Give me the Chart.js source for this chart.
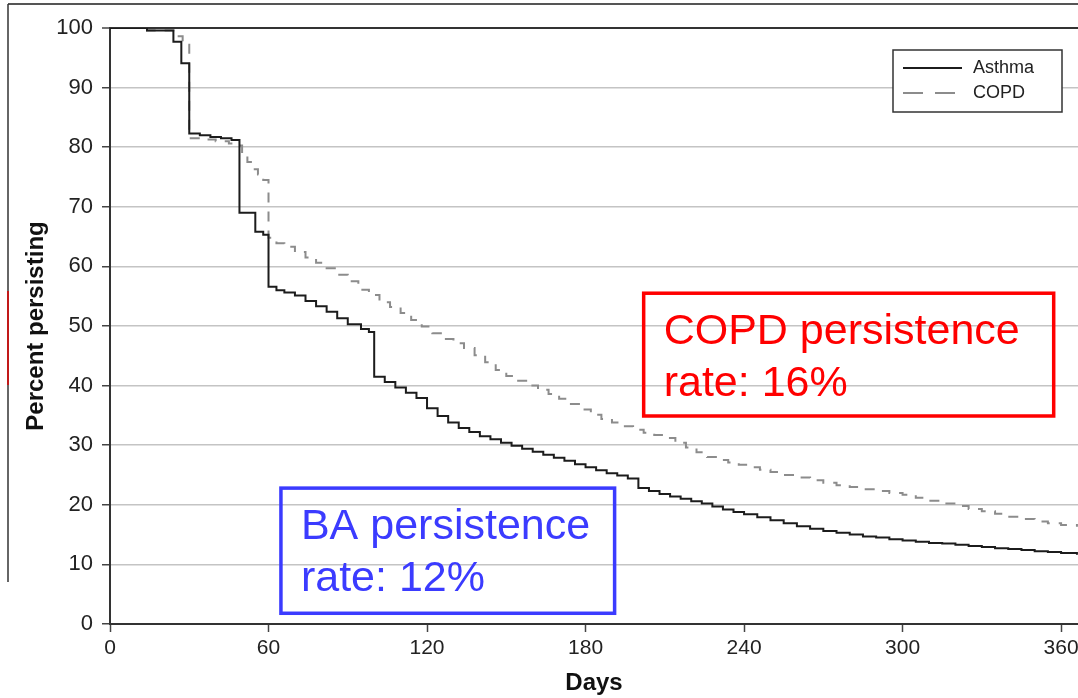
<!DOCTYPE html>
<html>
<head>
<meta charset="utf-8">
<script src="https://cdn.jsdelivr.net/npm/chart.js@4"></script>
<style>
  html, body { margin: 0; padding: 0; background: #ffffff; }
  #wrap { width: 1078px; height: 698px; position: relative; }
</style>
</head>
<body>
<div id="wrap"><canvas id="c" width="1078" height="698"></canvas></div>
<script>
// ---- data ----
const seriesNames = ['Asthma', 'COPD'];
const asthmaDays = [0,14,24,27,30,34,38,42,46,49,55,58,60,63,66,70,74,78,82,86,90,95,98,100,104,108,112,116,120,124,128,132,136,140,144,148,152,156,160,164,168,172,176,180,184,188,192,196,200,204,208,212,216,220,224,228,232,236,240,245,250,255,260,265,270,275,280,285,290,295,300,305,310,315,320,325,330,335,340,345,350,355,360,366];
const asthmaPct  = [100,99.6,97.7,94.1,82.3,82.0,81.7,81.5,81.2,69.0,65.8,65.3,56.6,56.0,55.6,55.1,54.2,53.3,52.4,51.3,50.3,49.5,49.0,41.5,40.6,39.7,38.8,37.9,36.2,34.9,33.8,32.9,32.2,31.5,31.0,30.4,29.9,29.4,28.9,28.4,27.9,27.4,26.8,26.3,25.8,25.3,24.9,24.4,22.8,22.3,21.8,21.4,21.0,20.6,20.2,19.7,19.2,18.8,18.4,17.9,17.4,16.9,16.4,16.0,15.6,15.3,15.0,14.7,14.5,14.2,14.0,13.8,13.6,13.5,13.3,13.1,12.9,12.7,12.6,12.4,12.2,12.1,11.9,11.6];
const copdDays = [0,14,24,27.5,30,35,40,45,48,50,52,54,56,58,60,63,66,70,74,78,82,86,90,94,98,102,106,110,114,118,122,126,130,134,138,142,146,150,154,158,162,166,170,174,178,182,186,190,194,198,202,206,210,214,218,222,226,230,234,238,242,246,250,255,260,265,270,275,280,285,290,295,300,305,310,315,320,325,330,335,340,345,350,355,360,366];
const copdPct  = [100,99.6,98.6,97.2,81.5,81.3,81.0,80.6,80.3,78.6,77.5,76.3,75.4,74.5,64.8,63.9,63.3,62.4,61.5,60.6,59.7,58.6,57.5,56.1,55.2,54.0,53.2,52.2,51.0,49.9,48.8,47.8,47.1,46.3,45.1,43.9,42.6,41.6,40.8,40.0,39.3,38.6,37.8,36.9,36.0,35.1,34.4,33.8,33.2,32.6,32.1,31.7,31.2,30.4,29.6,28.8,28.0,27.5,27.1,26.7,26.3,25.9,25.5,25.0,24.6,24.1,23.7,23.3,23.0,22.6,22.3,22.0,21.7,21.2,20.7,20.2,19.8,19.3,18.9,18.5,18.0,17.6,17.2,16.9,16.6,16.3];
const xTicks = [0, 60, 120, 180, 240, 300, 360];
const yTicks = [0, 10, 20, 30, 40, 50, 60, 70, 80, 90, 100];
const xTitle = 'Days';
const yTitle = 'Percent persisting';
const copdNoteLines = ['COPD persistence', 'rate: 16%'];
const baNoteLines = ['BA persistence', 'rate: 12%'];
// annotation boxes in data units: [dayFrom, dayTo, pctTop, pctBottom]
const copdNoteBox = [202, 357.2, 55.5, 34.9];
const baNoteBox = [64.7, 191, 22.8, 1.8];

const FONT = "'Liberation Sans', Arial, Helvetica, sans-serif";

function toXY(days, vals) { return days.map((d, i) => ({ x: d, y: vals[i] })); }

const decorPlugin = {
  id: 'decor',
  afterDatasetsDraw(chart) {
    const ctx = chart.ctx;
    const xs = chart.scales.x, ys = chart.scales.y;
    function note(box, lines, color) {
      const l = xs.getPixelForValue(box[0]), r = xs.getPixelForValue(box[1]);
      const t = ys.getPixelForValue(box[2]), b = ys.getPixelForValue(box[3]);
      ctx.save();
      ctx.strokeStyle = color; ctx.lineWidth = 3.5;
      ctx.strokeRect(l, t, r - l, b - t);
      ctx.fillStyle = color;
      ctx.font = "43px " + FONT;
      ctx.textBaseline = 'alphabetic';
      ctx.textAlign = 'left';
      lines.forEach((s, i) => ctx.fillText(s, l + 20, t + 51 + i * 52));
      ctx.restore();
    }
    note(copdNoteBox, copdNoteLines, '#ff0000');
    note(baNoteBox, baNoteLines, '#3b3bff');

    // legend
    const lx = 893, ly = 50, lw = 169, lh = 62;
    ctx.save();
    ctx.fillStyle = '#ffffff';
    ctx.fillRect(lx, ly, lw, lh);
    ctx.strokeStyle = '#333333'; ctx.lineWidth = 1.5;
    ctx.strokeRect(lx, ly, lw, lh);
    chart.data.datasets.forEach((ds, i) => {
      const yy = ly + 18 + i * 25;
      ctx.beginPath();
      ctx.strokeStyle = ds.borderColor;
      ctx.lineWidth = 2;
      ctx.setLineDash(ds.legendDash || []);
      ctx.moveTo(lx + 10, yy); ctx.lineTo(lx + 69, yy);
      ctx.stroke();
      ctx.setLineDash([]);
      ctx.fillStyle = '#222';
      ctx.font = "18px " + FONT;
      ctx.textBaseline = 'middle';
      ctx.fillText(ds.label, lx + 80, yy);
    });
    ctx.restore();

    // slide frame remnants
    ctx.save();
    ctx.strokeStyle = '#555'; ctx.lineWidth = 2;
    ctx.beginPath(); ctx.moveTo(8, 4); ctx.lineTo(1078, 4); ctx.stroke();
    ctx.lineWidth = 1.5; ctx.strokeStyle = '#333';
    ctx.beginPath(); ctx.moveTo(8, 4); ctx.lineTo(8, 582); ctx.stroke();
    ctx.strokeStyle = '#e00000';
    ctx.beginPath(); ctx.moveTo(8, 291); ctx.lineTo(8, 385); ctx.stroke();
    ctx.restore();
  }
};

new Chart(document.getElementById('c'), {
  type: 'line',
  data: {
    datasets: [
      { label: seriesNames[0], data: toXY(asthmaDays, asthmaPct), borderColor: '#1c1c1c', borderWidth: 2, stepped: 'before', pointRadius: 0, fill: false, order: 1 },
      { label: seriesNames[1], data: toXY(copdDays, copdPct), borderColor: '#8c8c8c', borderWidth: 2, borderDash: [10, 9], legendDash: [20, 12], stepped: 'before', pointRadius: 0, fill: false, order: 2 }
    ]
  },
  options: {
    responsive: false,
    animation: false,
    layout: { padding: { top: 28, right: 0, bottom: 0, left: 0 } },
    plugins: { legend: { display: false }, tooltip: { enabled: false } },
    scales: {
      x: {
        type: 'linear', min: 0, max: 366.4,
        afterBuildTicks: (s) => { s.ticks = xTicks.map(v => ({ value: v })); },
        afterFit: (s) => { s.height = 74; s.paddingRight = 0; s.paddingLeft = 0; },
        ticks: { font: { family: FONT, size: 21 }, color: '#222', padding: 4, maxRotation: 0, autoSkip: false },
        grid: { drawOnChartArea: false, drawTicks: true, tickLength: 8, tickColor: '#444', tickWidth: 1.5 },
        border: { color: '#333', width: 2 },
        title: { display: true, text: xTitle, font: { family: FONT, size: 24, weight: 'bold' }, color: '#111', padding: { top: 0, bottom: 0 } }
      },
      y: {
        min: 0, max: 100,
        afterBuildTicks: (s) => { s.ticks = yTicks.map(v => ({ value: v })); },
        afterFit: (s) => { s.width = 110; s.paddingTop = 0; s.paddingBottom = 0; },
        ticks: { font: { family: FONT, size: 22 }, color: '#222', padding: 9 },
        grid: {
          color: (c) => (c.tick && c.tick.value === 100) ? '#333' : '#c4c4c4',
          lineWidth: (c) => (c.tick && c.tick.value === 100) ? 2 : 1.5,
          tickColor: '#444', tickLength: 8, tickWidth: 1.5
        },
        border: { color: '#333', width: 2 },
        title: { display: true, text: yTitle, font: { family: FONT, size: 24, weight: 'bold' }, color: '#111', padding: { top: 22, bottom: 0 } }
      }
    }
  },
  plugins: [decorPlugin]
});
</script>
</body>
</html>
